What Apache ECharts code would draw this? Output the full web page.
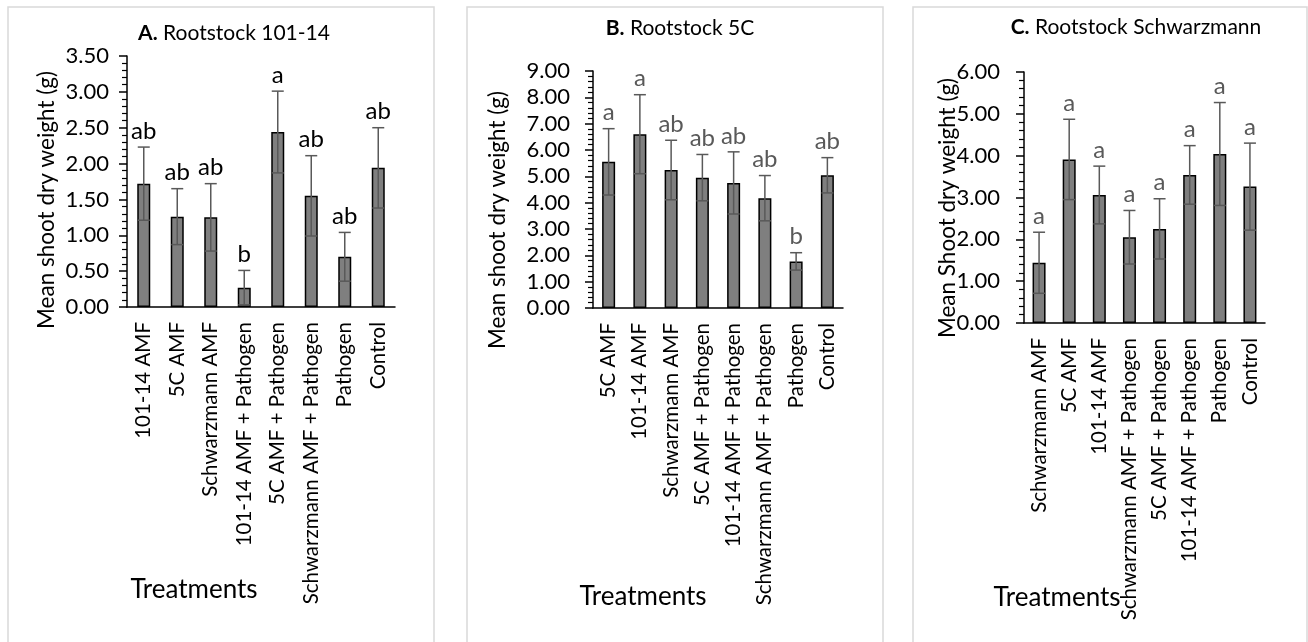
<!DOCTYPE html>
<html>
<head>
<meta charset="utf-8">
<script src="https://cdn.jsdelivr.net/npm/echarts@6/dist/echarts.min.js"></script>
<style>
  html, body { margin: 0; padding: 0; background: #fff; }
  #chart { width: 1308px; height: 642px; }
</style>
</head>
<body>
<div id="chart"></div>
<script>
// Panel A: rootstock 101-14
const catsA = ['101-14 AMF', '5C AMF', 'Schwarzmann AMF', '101-14 AMF + Pathogen',
  '5C AMF + Pathogen', 'Schwarzmann AMF + Pathogen', 'Pathogen', 'Control'];
const meanA = [1.72, 1.26, 1.25, 0.27, 2.44, 1.55, 0.70, 1.94];
const errA = [0.51, 0.39, 0.47, 0.24, 0.57, 0.56, 0.34, 0.56];
const letA = ['ab', 'ab', 'ab', 'b', 'a', 'ab', 'ab', 'ab'];

// Panel B: rootstock 5C
const catsB = ['5C AMF', '101-14 AMF', 'Schwarzmann AMF', '5C AMF + Pathogen',
  '101-14 AMF + Pathogen', 'Schwarzmann AMF + Pathogen', 'Pathogen', 'Control'];
const meanB = [5.55, 6.60, 5.24, 4.95, 4.75, 4.17, 1.77, 5.04];
const errB = [1.26, 1.50, 1.13, 0.88, 1.18, 0.86, 0.33, 0.67];
const letB = ['a', 'a', 'ab', 'ab', 'ab', 'ab', 'b', 'ab'];

// Panel C: rootstock Schwarzmann
const catsC = ['Schwarzmann AMF', '5C AMF', '101-14 AMF', 'Schwarzmann AMF + Pathogen',
  '5C AMF + Pathogen', '101-14 AMF + Pathogen', 'Pathogen', 'Control'];
const meanC = [1.44, 3.91, 3.06, 2.05, 2.25, 3.54, 4.04, 3.26];
const errC = [0.73, 0.96, 0.69, 0.64, 0.72, 0.70, 1.23, 1.04];
const letC = ['a', 'a', 'a', 'a', 'a', 'a', 'a', 'a'];

// Axis ranges
const yMaxA = 3.5, yStepA = 0.5;
const yMaxB = 9, yStepB = 1;
const yMaxC = 6, yStepC = 1;

const FONT = 'Lato';

const panels = [
  { cats: catsA, mean: meanA, err: errA, letters: letA, max: yMaxA, step: yStepA,
    grid: { left: 127, top: 56, width: 268, height: 251 }, letterColor: '#000', labelMargin: 18 },
  { cats: catsB, mean: meanB, err: errB, letters: letB, max: yMaxB, step: yStepB,
    grid: { left: 593, top: 71, width: 250, height: 237 }, letterColor: '#595959', labelMargin: 23 },
  { cats: catsC, mean: meanC, err: errC, letters: letC, max: yMaxC, step: yStepC,
    grid: { left: 1024, top: 72, width: 241, height: 251 }, letterColor: '#595959', labelMargin: 24 }
];

const grids = [], xAxes = [], yAxes = [], series = [];

panels.forEach((p, k) => {
  grids.push(Object.assign({ containLabel: false }, p.grid));
  xAxes.push({
    type: 'category', gridIndex: k, data: p.cats,
    axisLine: { lineStyle: { color: '#000', width: 1.5 } },
    axisTick: { show: false },
    axisLabel: { rotate: 90, interval: 0, margin: 15, color: '#000', fontFamily: FONT, fontSize: 20.5 }
  });
  yAxes.push({
    type: 'value', gridIndex: k, min: 0, max: p.max, interval: p.step,
    axisLine: { show: true, lineStyle: { color: '#000', width: 1.5 } },
    axisTick: { show: true, length: 8, lineStyle: { color: '#000', width: 1.5 } },
    minorTick: { show: true, splitNumber: 5, length: 5, lineStyle: { color: '#000', width: 1.2 } },
    splitLine: { show: false },
    axisLabel: { margin: p.labelMargin, color: '#000', fontFamily: FONT, fontSize: 22,
      formatter: v => v.toFixed(2) }
  });
  series.push({
    type: 'bar', xAxisIndex: k, yAxisIndex: k, data: p.mean, barWidth: 13,
    itemStyle: { color: '#7f7f7f', borderColor: '#000', borderWidth: 1.5 },
    silent: true
  });
  series.push({
    type: 'custom', xAxisIndex: k, yAxisIndex: k, silent: true, z: 5,
    data: p.mean.map((m, i) => [i, m - p.err[i], m + p.err[i]]),
    renderItem: function (params, api) {
      const i = api.value(0);
      const lo = api.coord([i, Math.max(0, api.value(1))]);
      const hi = api.coord([i, api.value(2)]);
      const half = 6;
      const st = { stroke: '#595959', lineWidth: 1.5 };
      return {
        type: 'group',
        children: [
          { type: 'line', shape: { x1: hi[0], y1: hi[1], x2: lo[0], y2: lo[1] }, style: st },
          { type: 'line', shape: { x1: hi[0] - half, y1: hi[1], x2: hi[0] + half, y2: hi[1] }, style: st },
          { type: 'line', shape: { x1: lo[0] - half, y1: lo[1], x2: lo[0] + half, y2: lo[1] }, style: st },
          { type: 'text', x: hi[0], y: hi[1] - 4,
            style: { text: p.letters[i], fill: p.letterColor, font: '24px ' + FONT,
              textAlign: 'center', textVerticalAlign: 'bottom' } }
        ]
      };
    }
  });
});

const frame = { type: 'rect', z: -1, silent: true,
  style: { fill: 'none', stroke: '#d9d9d9', lineWidth: 1.5 } };

const titleRich = { b: { fontWeight: 'bold', fontSize: 21, fontFamily: FONT } };

const graphic = [
  Object.assign({}, frame, { shape: { x: 8, y: 7, width: 426, height: 660 } }),
  Object.assign({}, frame, { shape: { x: 467, y: 7, width: 416, height: 660 } }),
  Object.assign({}, frame, { shape: { x: 913, y: 7, width: 394, height: 660 } }),

  { type: 'text', x: 234, y: 33, style: { text: '{b|A.} Rootstock 101-14', font: '21px ' + FONT,
    fill: '#000', textAlign: 'center', textVerticalAlign: 'middle', rich: titleRich } },
  { type: 'text', x: 680, y: 28, style: { text: '{b|B.} Rootstock 5C', font: '21px ' + FONT,
    fill: '#000', textAlign: 'center', textVerticalAlign: 'middle', rich: titleRich } },
  { type: 'text', x: 1136, y: 27, style: { text: '{b|C.} Rootstock Schwarzmann', font: '21px ' + FONT,
    fill: '#000', textAlign: 'center', textVerticalAlign: 'middle', rich: titleRich } },

  { type: 'text', x: 47, y: 200, rotation: Math.PI / 2, style: { text: 'Mean shoot dry weight (g)',
    font: '22.5px ' + FONT, fill: '#000', textAlign: 'center', textVerticalAlign: 'middle' } },
  { type: 'text', x: 498, y: 220, rotation: Math.PI / 2, style: { text: 'Mean shoot dry weight (g)',
    font: '22.5px ' + FONT, fill: '#000', textAlign: 'center', textVerticalAlign: 'middle' } },
  { type: 'text', x: 948, y: 208, rotation: Math.PI / 2, style: { text: 'Mean Shoot dry weight (g)',
    font: '22.5px ' + FONT, fill: '#000', textAlign: 'center', textVerticalAlign: 'middle' } },

  { type: 'text', x: 194, y: 590, style: { text: 'Treatments', font: '26px ' + FONT, fill: '#000',
    textAlign: 'center', textVerticalAlign: 'middle' } },
  { type: 'text', x: 643, y: 597, style: { text: 'Treatments', font: '26px ' + FONT, fill: '#000',
    textAlign: 'center', textVerticalAlign: 'middle' } },
  { type: 'text', x: 1057, y: 598, style: { text: 'Treatments', font: '26px ' + FONT, fill: '#000',
    textAlign: 'center', textVerticalAlign: 'middle' } }
];

const chart = echarts.init(document.getElementById('chart'), null, { renderer: 'canvas' });
chart.setOption({
  animation: false,
  backgroundColor: '#fff',
  grid: grids,
  xAxis: xAxes,
  yAxis: yAxes,
  series: series,
  graphic: graphic
});
</script>
</body>
</html>
